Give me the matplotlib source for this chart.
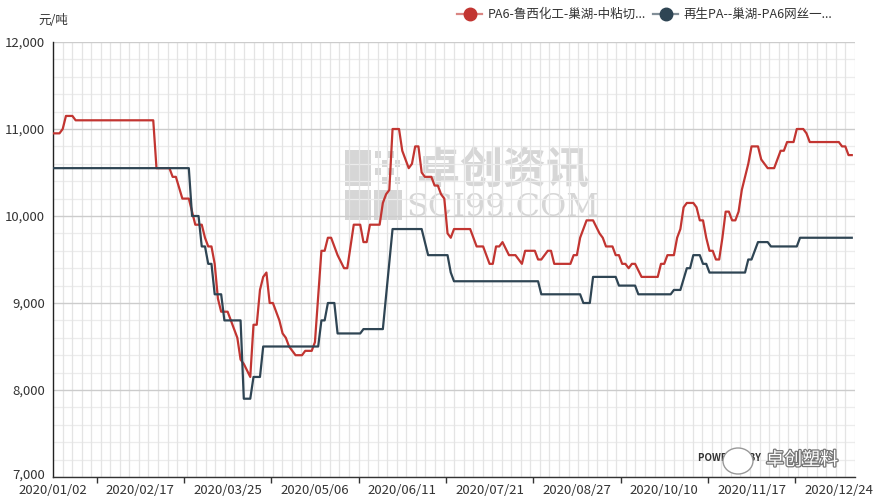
import numpy as np
import matplotlib
matplotlib.use("Agg")
import matplotlib.pyplot as plt
from matplotlib.lines import Line2D
from matplotlib.patches import Rectangle, Ellipse
from matplotlib.transforms import ScaledTranslation
import matplotlib.patheffects as pe

plt.rcParams['font.family'] = ['Noto Sans CJK SC', 'DejaVu Sans']

# trading-day index of each price change, and the price at that day
red_name = "PA6-鲁西化工-巢湖-中粘切..."
red_day = [0, 2, 3, 4, 6, 7, 31, 32, 36, 37, 38, 40, 42, 43, 44, 46, 47, 48,
           49, 50, 51, 52, 54, 55, 57, 58, 59, 61, 62, 63, 64, 65, 66, 67,
           68, 70, 71, 72, 73, 75, 77, 78, 80, 81, 83, 84, 85, 86, 88, 90,
           91, 93, 95, 96, 97, 98, 101, 102, 103, 104, 105, 107, 108, 110,
           111, 112, 113, 114, 115, 117, 118, 119, 120, 121, 122, 123, 124,
           129, 131, 133, 135, 136, 137, 138, 139, 141, 143, 145, 146, 149,
           150, 151, 153, 154, 155, 160, 161, 162, 163, 165, 167, 169, 170,
           171, 173, 174, 175, 176, 177, 178, 179, 180, 182, 187, 188, 189,
           190, 192, 193, 194, 195, 196, 198, 199, 200, 201, 202, 203, 204,
           205, 206, 207, 208, 209, 210, 211, 212, 213, 214, 215, 216, 218,
           219, 220, 221, 223, 224, 225, 226, 227, 229, 230, 232, 233, 234,
           243, 244, 245, 246, 247]
red_price = [10950, 10950, 11000, 11150, 11150, 11100, 11100, 10550, 10550,
             10450, 10450, 10200, 10200, 10050, 9900, 9900, 9750, 9650,
             9650, 9450, 9050, 8900, 8900, 8800, 8600, 8350, 8300, 8150,
             8750, 8750, 9150, 9300, 9350, 9000, 9000, 8800, 8650, 8600,
             8500, 8400, 8400, 8450, 8450, 8550, 9600, 9600, 9750, 9750,
             9550, 9400, 9400, 9900, 9900, 9700, 9700, 9900, 9900, 10150,
             10250, 10300, 11000, 11000, 10750, 10550, 10600, 10800, 10800,
             10500, 10450, 10450, 10350, 10350, 10250, 10200, 9800, 9750,
             9850, 9850, 9650, 9650, 9450, 9450, 9650, 9650, 9700, 9550,
             9550, 9450, 9600, 9600, 9500, 9500, 9600, 9600, 9450, 9450,
             9550, 9550, 9750, 9950, 9950, 9800, 9750, 9650, 9650, 9550,
             9550, 9450, 9450, 9400, 9450, 9450, 9300, 9300, 9450, 9450,
             9550, 9550, 9750, 9850, 10100, 10150, 10150, 10100, 9950, 9950,
             9750, 9600, 9600, 9500, 9500, 9750, 10050, 10050, 9950, 9950,
             10050, 10300, 10450, 10600, 10800, 10800, 10650, 10600, 10550,
             10550, 10650, 10750, 10750, 10850, 10850, 11000, 11000, 10950,
             10850, 10850, 10800, 10800, 10700, 10700]

blue_name = "再生PA--巢湖-PA6网丝一..."
blue_day = [0, 42, 43, 45, 46, 47, 48, 49, 50, 52, 53, 58, 59, 61, 62, 64,
            65, 82, 83, 84, 85, 87, 88, 95, 96, 102, 105, 114, 116, 122, 123,
            124, 150, 151, 163, 164, 166, 167, 174, 175, 180, 181, 191, 192,
            194, 196, 197, 198, 200, 201, 202, 203, 214, 215, 216, 218, 221,
            222, 230, 231, 247]
blue_price = [10550, 10550, 10000, 10000, 9650, 9650, 9450, 9450, 9100, 9100,
              8800, 8800, 7900, 7900, 8150, 8150, 8500, 8500, 8800, 8800,
              9000, 9000, 8650, 8650, 8700, 8700, 9850, 9850, 9550, 9550,
              9350, 9250, 9250, 9100, 9100, 9000, 9000, 9300, 9300, 9200,
              9200, 9100, 9100, 9150, 9150, 9400, 9400, 9550, 9550, 9450,
              9450, 9350, 9350, 9500, 9500, 9700, 9700, 9650, 9650, 9750,
              9750]

date_labels = ["2020/01/02", "2020/02/17", "2020/03/25", "2020/05/06",
               "2020/06/11", "2020/07/21", "2020/08/27", "2020/10/10",
               "2020/11/17", "2020/12/24"]
label_step = 27
last_day = 248

RED = "#c23531"
BLUE = "#2f4554"
W, H = 875, 500


def fx(px):
    return px / W


def fy(py):
    return 1 - py / H


fig = plt.figure(figsize=(8.75, 5), dpi=100)
ax = fig.add_axes([fx(53), fy(477), fx(855) - fx(53), fy(42) - fy(477)])

# grid
for v in range(7000, 12001, 200):
    major = v % 1000 == 0
    ax.axhline(v, color="#cccccc" if major else "#ececec",
               lw=1.0 if major else 0.9, zorder=1 if major else 0)
for x in np.linspace(0, last_day, 85)[1:]:
    ax.axvline(x, color="#e4e4e4", lw=0.9, zorder=0)

ax.plot(red_day, red_price, color=RED, lw=1.6, zorder=3,
        solid_joinstyle="round")
ax.plot(blue_day, blue_price, color=BLUE, lw=1.6, zorder=3,
        solid_joinstyle="round")

for s in ["top", "right"]:
    ax.spines[s].set_visible(False)
ax.spines["left"].set_color("#222222")
ax.spines["left"].set_linewidth(1.0)
ax.spines["bottom"].set_color("#333333")
ax.spines["bottom"].set_linewidth(1.0)

ax.set_yticks(range(7000, 12001, 1000))
ax.set_yticklabels([f"{v:,}" for v in range(7000, 12001, 1000)])
ax.tick_params(axis="y", length=0, pad=6, labelsize=9.5, labelcolor="#333333")
# lowest value label sits a touch above the axis line, as in the source
low = ax.get_yticklabels()[0]
low.set_transform(low.get_transform() +
                  ScaledTranslation(0, 3 / 100, fig.dpi_scale_trans))

xt = [i * label_step for i in range(len(date_labels))]
ax.set_xticks(xt)
ax.set_xticklabels(date_labels)
ax.set_xticks([x + label_step / 2 for x in xt[:-1]], minor=True)
ax.tick_params(axis="x", which="major", length=0, pad=5, labelsize=9.5,
               labelcolor="#333333")
ax.tick_params(axis="x", which="minor", length=4, width=1, color="#333333")

ax.set_xlim(0, last_day)
ax.set_ylim(7000, 12000)

# unit label
fig.text(fx(53), fy(20), "元/吨", ha="center", va="center", fontsize=9,
         color="#333333")

# legend
for lx, col, name in [(457, RED, red_name), (653, BLUE, blue_name)]:
    fig.add_artist(Line2D([fx(lx), fx(lx + 25)], [fy(14), fy(14)],
                          color=col, lw=1.6, alpha=0.6))
    fig.add_artist(Line2D([fx(lx + 12.5)], [fy(14)], marker="o",
                          markersize=9, color=col, lw=0))
    fig.text(fx(lx + 31), fy(14), name, ha="left", va="center",
             fontsize=9, color="#333333")

# watermark
wm = "#d6d6d6"
ax_wm = fig.add_axes([0, 0, 1, 1], zorder=-1)
ax_wm.set_xlim(0, W)
ax_wm.set_ylim(H, 0)
ax_wm.axis("off")
ax.set_zorder(1)
ax.patch.set_alpha(0)
ax_wm.add_patch(Rectangle((345, 150), 26, 36, color=wm, lw=0))
ax_wm.add_patch(Rectangle((345, 190), 26, 30, color=wm, lw=0))
ax_wm.add_patch(Rectangle((374, 190), 28, 30, color=wm, lw=0))
for i in range(4):
    for j in range(4):
        if (i + j) % 2 == 0:
            ax_wm.add_patch(Rectangle((375 + i * 6.5, 151 + j * 8.5), 5.5, 7,
                                      color=wm, lw=0))
ax_wm.text(503, 170, "卓创资讯", ha="center", va="center", fontsize=31,
           color=wm, fontweight="bold")
ax_wm.text(503, 207, "SCI99.COM", ha="center", va="center", fontsize=23,
           color=wm, family="DejaVu Serif")

# bottom-right stamp
fig.text(fx(698), fy(458), "POWERED BY", ha="left", va="center", fontsize=7,
         fontweight="bold", color="#333333", zorder=5)
stamp = Ellipse((fx(738), fy(461)), fx(30), 26 / H, facecolor="white",
                edgecolor="#999999", lw=1, zorder=6,
                transform=fig.transFigure)
fig.add_artist(stamp)
fig.text(fx(802), fy(460), "卓创塑料", ha="center", va="center", fontsize=13,
         color="white", zorder=7,
         path_effects=[pe.withStroke(linewidth=1.8, foreground="#777777")])

fig.savefig("out.png", dpi=100)
